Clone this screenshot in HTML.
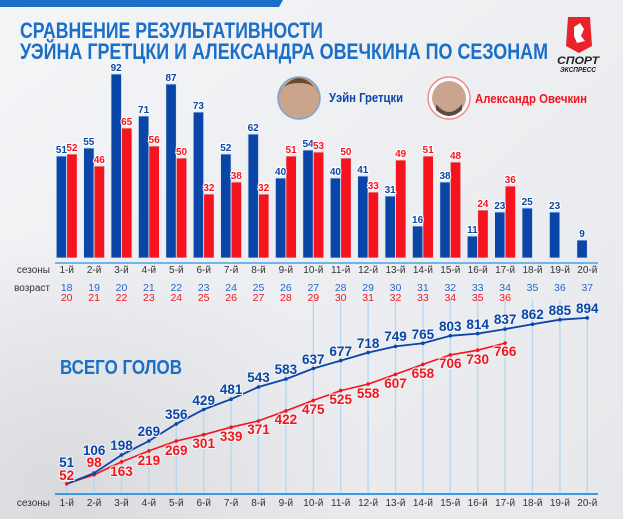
<!DOCTYPE html>
<html><head><meta charset="utf-8"><style>
html,body{margin:0;padding:0;width:623px;height:519px;overflow:hidden}
svg{display:block;font-family:"Liberation Sans",sans-serif}
.bl{fill:#0a45a8}.rd{fill:#f5141e}
.bv{font-size:10px;font-weight:bold;text-anchor:middle;stroke:#fff;stroke-width:2;paint-order:stroke}
.lv{font-size:13.5px;font-weight:bold;text-anchor:middle;stroke:#f2f3f5;stroke-width:2;paint-order:stroke}
.ax{font-size:10px;fill:#333;text-anchor:middle}
.ag{font-size:10.5px;text-anchor:middle}
</style></head><body>
<svg width="623" height="519" viewBox="0 0 623 519" xmlns="http://www.w3.org/2000/svg">
<defs>
<linearGradient id="bg" x1="0" y1="0" x2="1" y2="1">
<stop offset="0" stop-color="#f4f5f7"/><stop offset="0.5" stop-color="#eceef1"/><stop offset="1" stop-color="#e6e8eb"/>
</linearGradient>
<radialGradient id="dk" cx="0.1" cy="0.95" r="0.5"><stop offset="0" stop-color="#d8dadd"/><stop offset="1" stop-color="#d8dadd" stop-opacity="0"/></radialGradient>
</defs>
<rect width="623" height="519" fill="url(#bg)"/>
<rect width="623" height="519" fill="url(#dk)"/>
<polygon points="0,0 283,0 279,7 0,7" fill="#1a6fc8"/>
<text x="20" y="38" font-size="22" font-weight="bold" fill="#1a6fc8" textLength="303" lengthAdjust="spacingAndGlyphs">СРАВНЕНИЕ РЕЗУЛЬТАТИВНОСТИ</text>
<text x="20" y="59" font-size="22" font-weight="bold" fill="#1a6fc8" textLength="528" lengthAdjust="spacingAndGlyphs">УЭЙНА ГРЕТЦКИ И АЛЕКСАНДРА ОВЕЧКИНА ПО СЕЗОНАМ</text>
<path d="M568,17 L590,17 L592,46 L579,53 L566,46 Z" fill="#e8242a"/>
<path d="M574,27 l6,-4 l4,6 l-3,7 l4,5 l-8,2 l-3,-7 z" fill="#fff"/>
<text x="578" y="64" font-size="11" font-weight="bold" font-style="italic" fill="#222" text-anchor="middle" textLength="42" lengthAdjust="spacingAndGlyphs">СПОРТ</text>
<text x="578" y="72" font-size="7" font-weight="bold" font-style="italic" fill="#222" text-anchor="middle" textLength="36" lengthAdjust="spacingAndGlyphs">ЭКСПРЕСС</text>
<circle cx="299" cy="98" r="21" fill="#caa58c" stroke="#7aa3d6" stroke-width="1.5"/>
<path d="M280,92 q19,-28 38,0 q-4,-9 -19,-9 q-15,0 -19,9z" fill="#6b4a30"/>
<circle cx="449" cy="98" r="21" fill="#fff" stroke="#f28a8a" stroke-width="1.5"/>
<circle cx="449" cy="98" r="17" fill="#c9a590"/>
<path d="M436,104 q13,16 26,0 v6 q-13,12 -26,0z" fill="#5a4a40"/>
<text x="329" y="102" font-size="12.5" font-weight="bold" fill="#0a45a8" textLength="74" lengthAdjust="spacingAndGlyphs">Уэйн Гретцки</text>
<text x="475" y="103" font-size="12.5" font-weight="bold" fill="#f5141e" textLength="112" lengthAdjust="spacingAndGlyphs">Александр Овечкин</text>

<!-- bars -->
<g stroke="#dfe6f2" stroke-width="0.8">
<rect class="bl" x="56.2" y="156" width="10.5" height="102"/><rect class="rd" x="66.7" y="154" width="10.5" height="104"/>
<rect class="bl" x="83.6" y="148" width="10.5" height="110"/><rect class="rd" x="94.1" y="166" width="10.5" height="92"/>
<rect class="bl" x="111" y="74" width="10.5" height="184"/><rect class="rd" x="121.5" y="128" width="10.5" height="130"/>
<rect class="bl" x="138.4" y="116" width="10.5" height="142"/><rect class="rd" x="148.9" y="146" width="10.5" height="112"/>
<rect class="bl" x="165.8" y="84" width="10.5" height="174"/><rect class="rd" x="176.3" y="158" width="10.5" height="100"/>
<rect class="bl" x="193.2" y="112" width="10.5" height="146"/><rect class="rd" x="203.7" y="194" width="10.5" height="64"/>
<rect class="bl" x="220.6" y="154" width="10.5" height="104"/><rect class="rd" x="231.1" y="182" width="10.5" height="76"/>
<rect class="bl" x="248" y="134" width="10.5" height="124"/><rect class="rd" x="258.5" y="194" width="10.5" height="64"/>
<rect class="bl" x="275.4" y="178" width="10.5" height="80"/><rect class="rd" x="285.9" y="156" width="10.5" height="102"/>
<rect class="bl" x="302.8" y="150" width="10.5" height="108"/><rect class="rd" x="313.3" y="152" width="10.5" height="106"/>
<rect class="bl" x="330.2" y="178" width="10.5" height="80"/><rect class="rd" x="340.7" y="158" width="10.5" height="100"/>
<rect class="bl" x="357.6" y="176" width="10.5" height="82"/><rect class="rd" x="368.1" y="192" width="10.5" height="66"/>
<rect class="bl" x="385" y="196" width="10.5" height="62"/><rect class="rd" x="395.5" y="160" width="10.5" height="98"/>
<rect class="bl" x="412.4" y="226" width="10.5" height="32"/><rect class="rd" x="422.9" y="156" width="10.5" height="102"/>
<rect class="bl" x="439.8" y="182" width="10.5" height="76"/><rect class="rd" x="450.3" y="162" width="10.5" height="96"/>
<rect class="bl" x="467.2" y="236" width="10.5" height="22"/><rect class="rd" x="477.7" y="210" width="10.5" height="48"/>
<rect class="bl" x="494.6" y="212" width="10.5" height="46"/><rect class="rd" x="505.1" y="186" width="10.5" height="72"/>
<rect class="bl" x="522" y="208" width="10.5" height="50"/>
<rect class="bl" x="549.4" y="212" width="10.5" height="46"/>
<rect class="bl" x="576.8" y="240" width="10.5" height="18"/>
</g>
<g class="bv">
<text class="bl" x="61.4" y="153">51</text><text class="rd" x="71.9" y="151">52</text>
<text class="bl" x="88.8" y="145">55</text><text class="rd" x="99.3" y="163">46</text>
<text class="bl" x="116.2" y="71">92</text><text class="rd" x="126.7" y="125">65</text>
<text class="bl" x="143.6" y="113">71</text><text class="rd" x="154.1" y="143">56</text>
<text class="bl" x="171" y="81">87</text><text class="rd" x="181.5" y="155">50</text>
<text class="bl" x="198.4" y="109">73</text><text class="rd" x="208.9" y="191">32</text>
<text class="bl" x="225.8" y="151">52</text><text class="rd" x="236.3" y="179">38</text>
<text class="bl" x="253.2" y="131">62</text><text class="rd" x="263.7" y="191">32</text>
<text class="bl" x="280.6" y="175">40</text><text class="rd" x="291.1" y="153">51</text>
<text class="bl" x="308" y="147">54</text><text class="rd" x="318.5" y="149">53</text>
<text class="bl" x="335.4" y="175">40</text><text class="rd" x="345.9" y="155">50</text>
<text class="bl" x="362.8" y="173">41</text><text class="rd" x="373.3" y="189">33</text>
<text class="bl" x="390.2" y="193">31</text><text class="rd" x="400.7" y="157">49</text>
<text class="bl" x="417.6" y="223">16</text><text class="rd" x="428.1" y="153">51</text>
<text class="bl" x="445" y="179">38</text><text class="rd" x="455.5" y="159">48</text>
<text class="bl" x="472.4" y="233">11</text><text class="rd" x="482.9" y="207">24</text>
<text class="bl" x="499.8" y="209">23</text><text class="rd" x="510.3" y="183">36</text>
<text class="bl" x="527.2" y="205">25</text>
<text class="bl" x="554.6" y="209">23</text>
<text class="bl" x="582" y="237">9</text>
</g>
<line x1="55" y1="263" x2="598" y2="263" stroke="#6fb4ea" stroke-width="2"/>
<text x="50" y="273" font-size="10" fill="#333" text-anchor="end">сезоны</text>
<text x="50" y="291" font-size="10" fill="#333" text-anchor="end">возраст</text>
<g class="ax">
<text x="66.7" y="273">1-й</text><text x="94.1" y="273">2-й</text><text x="121.5" y="273">3-й</text><text x="148.9" y="273">4-й</text><text x="176.3" y="273">5-й</text><text x="203.7" y="273">6-й</text><text x="231.1" y="273">7-й</text><text x="258.5" y="273">8-й</text><text x="285.9" y="273">9-й</text><text x="313.3" y="273">10-й</text><text x="340.7" y="273">11-й</text><text x="368.1" y="273">12-й</text><text x="395.5" y="273">13-й</text><text x="422.9" y="273">14-й</text><text x="450.3" y="273">15-й</text><text x="477.7" y="273">16-й</text><text x="505.1" y="273">17-й</text><text x="532.5" y="273">18-й</text><text x="559.9" y="273">19-й</text><text x="587.3" y="273">20-й</text>
</g>
<g class="ag" fill="#2a66c8">
<text x="66.7" y="291">18</text><text x="94.1" y="291">19</text><text x="121.5" y="291">20</text><text x="148.9" y="291">21</text><text x="176.3" y="291">22</text><text x="203.7" y="291">23</text><text x="231.1" y="291">24</text><text x="258.5" y="291">25</text><text x="285.9" y="291">26</text><text x="313.3" y="291">27</text><text x="340.7" y="291">28</text><text x="368.1" y="291">29</text><text x="395.5" y="291">30</text><text x="422.9" y="291">31</text><text x="450.3" y="291">32</text><text x="477.7" y="291">33</text><text x="505.1" y="291">34</text><text x="532.5" y="291">35</text><text x="559.9" y="291">36</text><text x="587.3" y="291">37</text>
</g>
<g class="ag" fill="#f5141e">
<text x="66.7" y="301">20</text><text x="94.1" y="301">21</text><text x="121.5" y="301">22</text><text x="148.9" y="301">23</text><text x="176.3" y="301">24</text><text x="203.7" y="301">25</text><text x="231.1" y="301">26</text><text x="258.5" y="301">27</text><text x="285.9" y="301">28</text><text x="313.3" y="301">29</text><text x="340.7" y="301">30</text><text x="368.1" y="301">31</text><text x="395.5" y="301">32</text><text x="422.9" y="301">33</text><text x="450.3" y="301">34</text><text x="477.7" y="301">35</text><text x="505.1" y="301">36</text>
</g>

<text x="60" y="374" font-size="20" font-weight="bold" fill="#1a6fc8" textLength="122" lengthAdjust="spacingAndGlyphs">ВСЕГО ГОЛОВ</text>

<!-- line chart -->
<g stroke="#b5d6f0" stroke-width="1.3">
<line x1="66.7" y1="484" x2="66.7" y2="494"/><line x1="94.1" y1="473" x2="94.1" y2="494"/><line x1="121.5" y1="455" x2="121.5" y2="494"/><line x1="148.9" y1="441" x2="148.9" y2="494"/><line x1="176.3" y1="424" x2="176.3" y2="494"/><line x1="203.7" y1="409" x2="203.7" y2="494"/><line x1="231.1" y1="399" x2="231.1" y2="494"/><line x1="258.5" y1="380" x2="258.5" y2="494"/><line x1="285.9" y1="372" x2="285.9" y2="494"/><line x1="313.3" y1="300" x2="313.3" y2="494"/><line x1="340.7" y1="300" x2="340.7" y2="494"/><line x1="368.1" y1="300" x2="368.1" y2="494"/><line x1="395.5" y1="300" x2="395.5" y2="494"/><line x1="422.9" y1="300" x2="422.9" y2="494"/><line x1="450.3" y1="300" x2="450.3" y2="494"/><line x1="477.7" y1="300" x2="477.7" y2="494"/><line x1="505.1" y1="300" x2="505.1" y2="494"/><line x1="532.5" y1="300" x2="532.5" y2="494"/><line x1="559.9" y1="300" x2="559.9" y2="494"/><line x1="587.3" y1="300" x2="587.3" y2="494"/>
</g>
<polyline fill="none" stroke="#f5141e" stroke-width="1.6" points="66.7,483.8 94.1,474.7 121.5,461.9 148.9,450.9 176.3,441 203.7,434.7 231.1,427.2 258.5,420.9 285.9,410.9 313.3,400.4 340.7,390.6 368.1,384.1 395.5,374.4 422.9,364.4 450.3,354.9 477.7,350.2 505.1,343.1"/>
<polyline fill="none" stroke="#0a45a8" stroke-width="1.8" points="66.7,484 94.1,473.1 121.5,455 148.9,441 176.3,423.9 203.7,409.5 231.1,399.2 258.5,387 285.9,379.1 313.3,368.5 340.7,360.6 368.1,352.6 395.5,346.4 422.9,343.3 450.3,335.8 477.7,333.6 505.1,329.1 532.5,324.2 559.9,319.7 587.3,317.9"/>
<g class="rd">
<circle cx="66.7" cy="483.8" r="1.8"/><circle cx="94.1" cy="474.7" r="1.8"/><circle cx="121.5" cy="461.9" r="1.8"/><circle cx="148.9" cy="450.9" r="1.8"/><circle cx="176.3" cy="441" r="1.8"/><circle cx="203.7" cy="434.7" r="1.8"/><circle cx="231.1" cy="427.2" r="1.8"/><circle cx="258.5" cy="420.9" r="1.8"/><circle cx="285.9" cy="410.9" r="1.8"/><circle cx="313.3" cy="400.4" r="1.8"/><circle cx="340.7" cy="390.6" r="1.8"/><circle cx="368.1" cy="384.1" r="1.8"/><circle cx="395.5" cy="374.4" r="1.8"/><circle cx="422.9" cy="364.4" r="1.8"/><circle cx="450.3" cy="354.9" r="1.8"/><circle cx="477.7" cy="350.2" r="1.8"/><circle cx="505.1" cy="343.1" r="1.8"/>
</g>
<g class="bl">
<circle cx="94.1" cy="473.1" r="1.8"/><circle cx="121.5" cy="455" r="1.8"/><circle cx="148.9" cy="441" r="1.8"/><circle cx="176.3" cy="423.9" r="1.8"/><circle cx="203.7" cy="409.5" r="1.8"/><circle cx="231.1" cy="399.2" r="1.8"/><circle cx="258.5" cy="387" r="1.8"/><circle cx="285.9" cy="379.1" r="1.8"/><circle cx="313.3" cy="368.5" r="1.8"/><circle cx="340.7" cy="360.6" r="1.8"/><circle cx="368.1" cy="352.6" r="1.8"/><circle cx="395.5" cy="346.4" r="1.8"/><circle cx="422.9" cy="343.3" r="1.8"/><circle cx="450.3" cy="335.8" r="1.8"/><circle cx="477.7" cy="333.6" r="1.8"/><circle cx="505.1" cy="329.1" r="1.8"/><circle cx="532.5" cy="324.2" r="1.8"/><circle cx="559.9" cy="319.7" r="1.8"/><circle cx="587.3" cy="317.9" r="1.8"/>
</g>
<g class="lv bl">
<text x="66.7" y="467">51</text><text x="94.1" y="455">106</text><text x="121.5" y="450">198</text><text x="148.9" y="436">269</text><text x="176.3" y="419">356</text><text x="203.7" y="405">429</text><text x="231.1" y="394">481</text><text x="258.5" y="382">543</text><text x="285.9" y="374">583</text><text x="313.3" y="364">637</text><text x="340.7" y="356">677</text><text x="368.1" y="348">718</text><text x="395.5" y="341">749</text><text x="422.9" y="339">765</text><text x="450.3" y="331">803</text><text x="477.7" y="329">814</text><text x="505.1" y="324">837</text><text x="532.5" y="319">862</text><text x="559.9" y="315">885</text><text x="587.3" y="313">894</text>
</g>
<g class="lv rd">
<text x="66.7" y="480">52</text><text x="94.1" y="467">98</text><text x="121.5" y="476">163</text><text x="148.9" y="465">219</text><text x="176.3" y="455">269</text><text x="203.7" y="448">301</text><text x="231.1" y="441">339</text><text x="258.5" y="434">371</text><text x="285.9" y="424">422</text><text x="313.3" y="414">475</text><text x="340.7" y="404">525</text><text x="368.1" y="398">558</text><text x="395.5" y="388">607</text><text x="422.9" y="378">658</text><text x="450.3" y="368">706</text><text x="477.7" y="364">730</text><text x="505.1" y="356">766</text>
</g>
<line x1="55" y1="494" x2="598" y2="494" stroke="#3a9ae6" stroke-width="2"/>
<text x="50" y="506" font-size="10" fill="#333" text-anchor="end">сезоны</text>
<g class="ax">
<text x="66.7" y="506">1-й</text><text x="94.1" y="506">2-й</text><text x="121.5" y="506">3-й</text><text x="148.9" y="506">4-й</text><text x="176.3" y="506">5-й</text><text x="203.7" y="506">6-й</text><text x="231.1" y="506">7-й</text><text x="258.5" y="506">8-й</text><text x="285.9" y="506">9-й</text><text x="313.3" y="506">10-й</text><text x="340.7" y="506">11-й</text><text x="368.1" y="506">12-й</text><text x="395.5" y="506">13-й</text><text x="422.9" y="506">14-й</text><text x="450.3" y="506">15-й</text><text x="477.7" y="506">16-й</text><text x="505.1" y="506">17-й</text><text x="532.5" y="506">18-й</text><text x="559.9" y="506">19-й</text><text x="587.3" y="506">20-й</text>
</g>
</svg>
</body></html>
